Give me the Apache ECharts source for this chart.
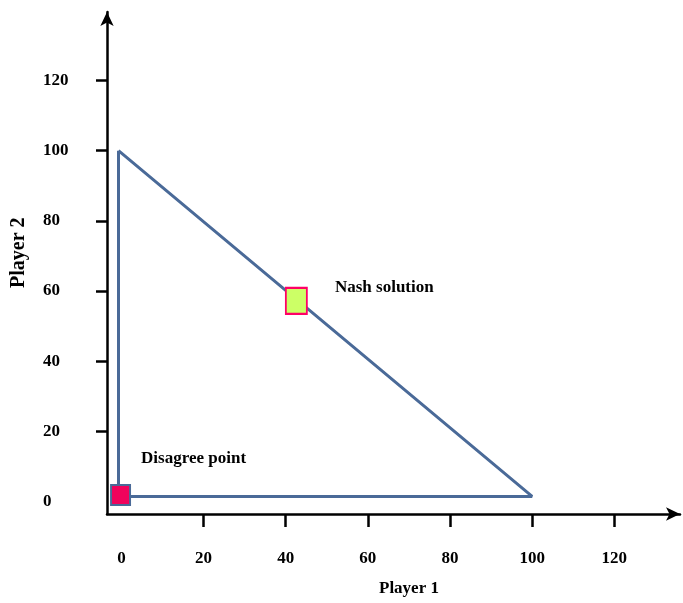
<!DOCTYPE html>
<html>
<head>
<meta charset="utf-8">
<script src="https://cdn.jsdelivr.net/npm/echarts@6/dist/echarts.min.js"></script>
<style>
html,body{margin:0;padding:0;background:#fff;}
#chart{width:683px;height:603px;}
</style>
</head>
<body>
<div id="chart"></div>
<script>
// Data
var triangleX = [-0.7, -0.7, 100, -0.7];
var triangleY = [100, 1.5, 1.5, 100];
var nashPoint = [42.6, 57.2];
var disagreePoint = [-0.2, 1.9];
var xTickLabels = [0, 20, 40, 60, 80, 100, 120];
var yTickLabels = [0, 20, 40, 60, 80, 100, 120];
var xTicks = [20, 40, 60, 80, 100, 120];
var yTicks = [20, 40, 60, 80, 100, 120];
var xTitle = 'Player 1';
var yTitle = 'Player 2';
var nashLabel = 'Nash solution';
var disagreeLabel = 'Disagree point';

var FONT = '"Liberation Serif", "DejaVu Serif", serif';
var chart = echarts.init(document.getElementById('chart'));
var triangle = triangleX.map(function (x, i) { return [x, triangleY[i]]; });

chart.setOption({
  animation: false,
  backgroundColor: '#ffffff',
  grid: { left: 107, right: 3, top: 12, bottom: 89 },
  xAxis: {
    type: 'value', min: -3.5, max: 136,
    splitLine: { show: false },
    axisLine: { show: true, onZero: false, symbol: ['none', 'arrow'], symbolSize: [10, 14],
      lineStyle: { color: '#000', width: 2.5 } },
    axisTick: { show: true, inside: false, length: 13, customValues: xTicks,
      lineStyle: { color: '#000', width: 2.5 } },
    axisLabel: { show: true, customValues: xTickLabels, margin: 36,
      fontFamily: FONT, fontWeight: 'bold', fontSize: 17, color: '#000' }
  },
  yAxis: {
    type: 'value', min: -3.5, max: 139.5,
    splitLine: { show: false },
    axisLine: { show: true, onZero: false, symbol: ['none', 'arrow'], symbolSize: [10, 14],
      lineStyle: { color: '#000', width: 2.5 } },
    axisTick: { show: true, inside: false, length: 11, customValues: yTicks,
      lineStyle: { color: '#000', width: 2.5 } },
    axisLabel: { show: true, customValues: yTickLabels, margin: 64, align: 'left',
      fontFamily: FONT, fontWeight: 'bold', fontSize: 17, color: '#000' }
  },
  graphic: [
    { type: 'text', left: 379, top: 580,
      style: { text: xTitle, fontFamily: FONT, fontWeight: 'bold', fontSize: 17, fill: '#000' } },
    { type: 'text', x: 9, y: 288, rotation: Math.PI / 2,
      style: { text: yTitle, fontFamily: FONT, fontWeight: 'bold', fontSize: 20, fill: '#000' } }
  ],
  series: [
    {
      type: 'line', data: triangle, symbol: 'none', silent: true,
      lineStyle: { color: '#4a6a98', width: 3 }, z: 2
    },
    {
      type: 'scatter', z: 3,
      itemStyle: { opacity: 1 },
      data: [{
        value: nashPoint, symbol: 'rect', symbolSize: [21, 26],
        itemStyle: { color: '#ccff66', borderColor: '#ff0066', borderWidth: 2, opacity: 1 },
        label: { show: true, formatter: nashLabel, position: [50, 1], verticalAlign: 'middle', align: 'left',
          fontFamily: FONT, fontWeight: 'bold', fontSize: 17, color: '#000' }
      }, {
        value: disagreePoint, symbol: 'rect', symbolSize: [19, 20],
        itemStyle: { color: '#f0035c', borderColor: '#4a6a98', borderWidth: 2, opacity: 1 },
        label: { show: true, formatter: disagreeLabel, position: [31, -25], verticalAlign: 'middle', align: 'left',
          fontFamily: FONT, fontWeight: 'bold', fontSize: 17, color: '#000' }
      }]
    }
  ]
});
</script>
</body>
</html>
